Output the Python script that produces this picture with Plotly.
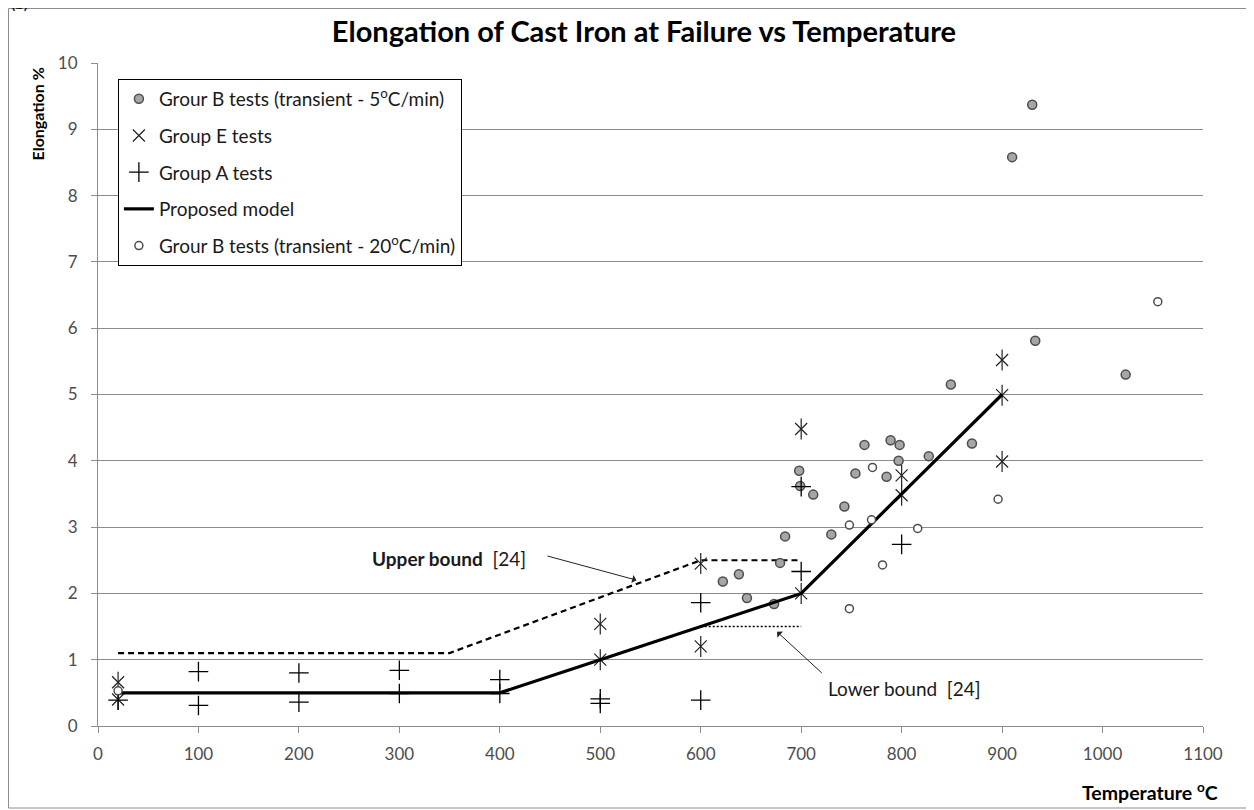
"""
Elongation of cast iron at failure vs temperature - scatter with model lines.
"""

import plotly.graph_objects as go

# Group A tests (plus markers)
group_a_temp = [20, 100, 100, 200, 200, 300, 300, 400, 400, 500, 500, 600, 600, 700, 700, 800]
group_a_elong = [0.39, 0.82, 0.31, 0.80, 0.36, 0.84, 0.49, 0.70, 0.49, 0.41, 0.34, 0.39, 1.86, 2.33, 3.61, 2.74]

# Group E tests (asterisk markers)
group_e_temp = [20, 20, 500, 500, 600, 600, 700, 700, 800, 800, 900, 900, 900]
group_e_elong = [0.66, 0.40, 1.00, 1.54, 2.45, 1.20, 4.48, 2.00, 3.78, 3.48, 5.52, 4.99, 3.99]

# Group B transient 5 C/min (grey filled circles)
group_b5_temp = [930, 910, 933, 1023, 849, 870, 827, 789, 798, 763, 797, 754, 785,
                 698, 699, 743, 712, 730, 684, 679, 638, 622, 646, 673]
group_b5_elong = [9.37, 8.58, 5.81, 5.30, 5.15, 4.26, 4.07, 4.31, 4.24, 4.24, 4.00, 3.81, 3.76,
                  3.85, 3.62, 3.31, 3.49, 2.89, 2.86, 2.46, 2.29, 2.18, 1.93, 1.84]

# Group B transient 20 C/min (open circles)
group_b20_temp = [20, 1055, 896, 816, 771, 770, 748, 781, 748]
group_b20_elong = [0.53, 6.40, 3.42, 2.98, 3.90, 3.11, 3.03, 2.43, 1.77]

# Proposed model and bounds from ref [24]
model_temp = [20, 400, 500, 600, 700, 800, 900]
model_elong = [0.5, 0.5, 1.0, 1.5, 2.0, 3.5, 5.0]
upper_temp = [20, 350, 600, 700]
upper_elong = [1.1, 1.1, 2.5, 2.5]
lower_temp = [600, 700]
lower_elong = [1.5, 1.5]

x_ticks = list(range(0, 1101, 100))
y_ticks = list(range(0, 11))

FONT = "Lato, 'Open Sans', sans-serif"
GRID = "#8c8c8c"

fig = go.Figure()

# bound lines (not in legend)
fig.add_trace(go.Scatter(
    x=upper_temp, y=upper_elong, mode="lines", showlegend=False,
    line=dict(color="black", width=2.2, dash="6px,4px"), hoverinfo="skip",
))
fig.add_trace(go.Scatter(
    x=lower_temp, y=lower_elong, mode="lines", showlegend=False,
    line=dict(color="black", width=1.6, dash="2px,2px"), hoverinfo="skip",
))

fig.add_trace(go.Scatter(
    x=group_b5_temp, y=group_b5_elong, mode="markers",
    name="Grour B tests (transient - 5<sup>o</sup>C/min)", legendgroup="g1",
    marker=dict(symbol="circle", size=9, color="#a6a6a6", line=dict(color="#4d4d4d", width=1.5)),
))
fig.add_trace(go.Scatter(
    x=group_e_temp, y=group_e_elong, mode="markers",
    name="Group E tests", legendgroup="g2",
    marker=dict(symbol="x-thin-open", size=12, color="#222222", line=dict(color="#222222", width=1.2)),
))
fig.add_trace(go.Scatter(
    x=group_e_temp, y=group_e_elong, mode="markers",
    showlegend=False, legendgroup="g2", hoverinfo="skip",
    marker=dict(symbol="line-ns-open", size=15, color="#222222", line=dict(color="#222222", width=1.2)),
))
fig.add_trace(go.Scatter(
    x=group_a_temp, y=group_a_elong, mode="markers",
    name="Group A tests", legendgroup="g3",
    marker=dict(symbol="cross-thin-open", size=14, color="black", line=dict(color="black", width=1.3)),
))
fig.add_trace(go.Scatter(
    x=model_temp, y=model_elong, mode="lines",
    name="Proposed model", legendgroup="g4",
    line=dict(color="black", width=3.2),
))
fig.add_trace(go.Scatter(
    x=group_b20_temp, y=group_b20_elong, mode="markers",
    name="Grour B tests (transient - 20<sup>o</sup>C/min)", legendgroup="g5",
    marker=dict(symbol="circle", size=8, color="white", line=dict(color="#4d4d4d", width=1.5)),
))

annotations = [
    dict(x=349, y=2.53, xref="x", yref="y", text="<b>Upper bound</b>  [24]", showarrow=False,
         font=dict(family=FONT, size=19, color="#1a1a1a")),
    dict(x=536, y=2.20, ax=446, ay=2.57, xref="x", yref="y", axref="x", ayref="y",
         text="", showarrow=True, arrowhead=1, arrowsize=1.4, arrowwidth=1, arrowcolor="#222"),
    dict(x=803, y=0.57, xref="x", yref="y", text="Lower bound  [24]", showarrow=False,
         font=dict(family=FONT, size=19, color="#1a1a1a")),
    dict(x=676, y=1.42, ax=722, ay=0.78, xref="x", yref="y", axref="x", ayref="y",
         text="", showarrow=True, arrowhead=1, arrowsize=1.4, arrowwidth=1, arrowcolor="#222"),
    dict(x=-0.0552, y=0.9955, xref="paper", yref="paper", xanchor="center", yanchor="top",
         text="<b>Elongation %</b>", textangle=-90, showarrow=False,
         font=dict(family=FONT, size=16, color="black")),
    dict(x=1.0154, y=-0.0995, xref="paper", yref="paper", xanchor="right", yanchor="middle",
         text="<b>Temperature <sup>o</sup>C</b>", showarrow=False,
         font=dict(family=FONT, size=19.5, color="black")),
    dict(x=-0.0706, y=1.074, xref="paper", yref="paper", xanchor="center", yanchor="bottom",
         text="(b)", showarrow=False, font=dict(family=FONT, size=16, color="black")),
]

# page body has an 8px margin, so the figure is 8px smaller and shifted
fig.update_layout(
    width=1246, height=802,
    margin=dict(l=90, r=51, t=55, b=84),
    paper_bgcolor="white", plot_bgcolor="white",
    title=dict(text="<b>Elongation of Cast Iron at Failure vs Temperature</b>",
               x=0.5104, xanchor="center", y=1 - 24 / 802, yref="container", yanchor="middle",
               font=dict(family=FONT, size=29, color="black")),
    legend=dict(x=0.018, y=0.976, xanchor="left", yanchor="top",
                bordercolor="black", borderwidth=1, bgcolor="white",
                traceorder="grouped", tracegroupgap=9,
                font=dict(family=FONT, size=19, color="#1a1a1a")),
    annotations=annotations,
    shapes=[dict(type="rect", xref="paper", yref="paper",
                 x0=-0.081, x1=1.0398, y0=-0.1237, y1=1.0822,
                 line=dict(color="#8c8c8c", width=1))],
    showlegend=True,
)

fig.update_xaxes(
    range=[0, 1100], tickvals=x_ticks, showgrid=False, zeroline=False,
    showline=True, linecolor=GRID, linewidth=1,
    ticks="outside", ticklen=6, tickcolor=GRID, ticklabelstandoff=7,
    tickfont=dict(family=FONT, size=17, color="#4d4d4d"),
)
fig.update_yaxes(
    range=[0, 10], tickvals=y_ticks, showgrid=True, gridcolor=GRID, gridwidth=1,
    zeroline=False, showline=True, linecolor=GRID, linewidth=1,
    ticks="outside", ticklen=6, tickcolor=GRID, ticklabelstandoff=10,
    tickfont=dict(family=FONT, size=17, color="#4d4d4d"),
)

fig.write_html("out.html")
